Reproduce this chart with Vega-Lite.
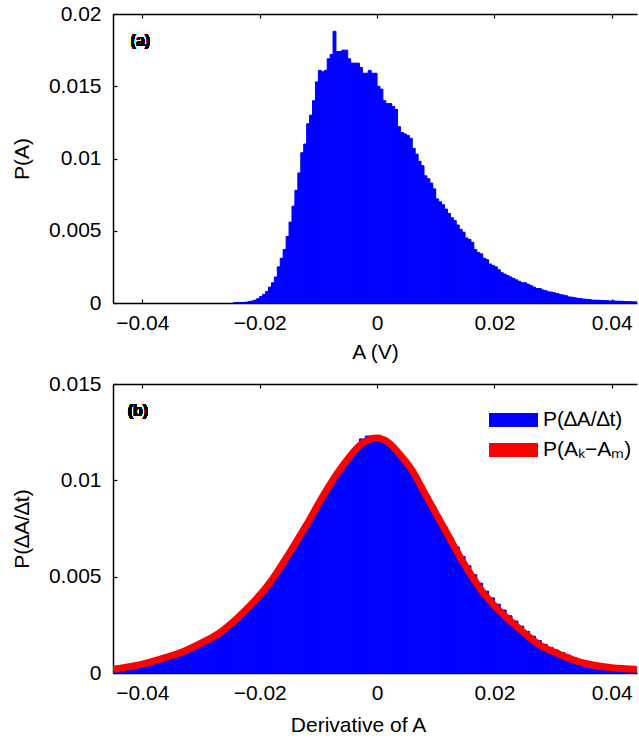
{
  "$schema": "https://vega.github.io/schema/vega-lite/v6.json",
  "padding": {"left": 11, "top": 3, "right": 0, "bottom": 0},
  "spacing": 11,
  "config": {
    "view": {"stroke": null},
    "font": "Liberation Sans",
    "axis": {
      "labelFont": "Liberation Sans", "titleFont": "Liberation Sans",
      "labelFontSize": 21, "titleFontSize": 21, "titleFontWeight": "normal",
      "labelColor": "black", "titleColor": "black",
      "domainColor": "black", "tickColor": "black",
      "domainWidth": 1.5, "tickWidth": 1.2, "tickSize": -4, "grid": false, "format": "~g"
    }
  },
  "vconcat": [
    {
      "width": 524, "height": 289,
      "data": {"values": [
        {"x0":-0.0245,"x1":-0.024,"p":0.00002},{"x0":-0.024,"x1":-0.0235,"p":0.00002},{"x0":-0.0235,"x1":-0.023,"p":0.00003},{"x0":-0.023,"x1":-0.0225,"p":0.00004},{"x0":-0.0225,"x1":-0.022,"p":0.00006},{"x0":-0.022,"x1":-0.0215,"p":0.0001},{"x0":-0.0215,"x1":-0.021,"p":0.00014},{"x0":-0.021,"x1":-0.0205,"p":0.0002},{"x0":-0.0205,"x1":-0.02,"p":0.0003},{"x0":-0.02,"x1":-0.0195,"p":0.00045},
        {"x0":-0.0195,"x1":-0.019,"p":0.0006},{"x0":-0.019,"x1":-0.0185,"p":0.0008},{"x0":-0.0185,"x1":-0.018,"p":0.0011},{"x0":-0.018,"x1":-0.0175,"p":0.0014},{"x0":-0.0175,"x1":-0.017,"p":0.0018},{"x0":-0.017,"x1":-0.0165,"p":0.0025},{"x0":-0.0165,"x1":-0.016,"p":0.0031},{"x0":-0.016,"x1":-0.0155,"p":0.0037},{"x0":-0.0155,"x1":-0.015,"p":0.0046},{"x0":-0.015,"x1":-0.0145,"p":0.0056},
        {"x0":-0.0145,"x1":-0.014,"p":0.0067},{"x0":-0.014,"x1":-0.0135,"p":0.0078},{"x0":-0.0135,"x1":-0.013,"p":0.009},{"x0":-0.013,"x1":-0.0125,"p":0.0104},{"x0":-0.0125,"x1":-0.012,"p":0.011},{"x0":-0.012,"x1":-0.0115,"p":0.0124},{"x0":-0.0115,"x1":-0.011,"p":0.013},{"x0":-0.011,"x1":-0.0105,"p":0.014},{"x0":-0.0105,"x1":-0.01,"p":0.0153},{"x0":-0.01,"x1":-0.0095,"p":0.0161},
        {"x0":-0.0095,"x1":-0.009,"p":0.016},{"x0":-0.009,"x1":-0.0085,"p":0.0161},{"x0":-0.0085,"x1":-0.008,"p":0.0169},{"x0":-0.008,"x1":-0.0075,"p":0.0172},{"x0":-0.0075,"x1":-0.007,"p":0.0188},{"x0":-0.007,"x1":-0.0065,"p":0.0174},{"x0":-0.0065,"x1":-0.006,"p":0.0174},{"x0":-0.006,"x1":-0.0055,"p":0.0175},{"x0":-0.0055,"x1":-0.005,"p":0.0175},{"x0":-0.005,"x1":-0.0045,"p":0.0169},
        {"x0":-0.0045,"x1":-0.004,"p":0.0166},{"x0":-0.004,"x1":-0.0035,"p":0.0166},{"x0":-0.0035,"x1":-0.003,"p":0.0166},{"x0":-0.003,"x1":-0.0025,"p":0.0163},{"x0":-0.0025,"x1":-0.002,"p":0.0159},{"x0":-0.002,"x1":-0.0015,"p":0.0159},{"x0":-0.0015,"x1":-0.001,"p":0.0161},{"x0":-0.001,"x1":-0.0005,"p":0.0159},{"x0":-0.0005,"x1":0,"p":0.0159},{"x0":0,"x1":0.0005,"p":0.015},
        {"x0":0.0005,"x1":0.001,"p":0.0148},{"x0":0.001,"x1":0.0015,"p":0.014},{"x0":0.0015,"x1":0.002,"p":0.0138},{"x0":0.002,"x1":0.0025,"p":0.0138},{"x0":0.0025,"x1":0.003,"p":0.0136},{"x0":0.003,"x1":0.0035,"p":0.0134},{"x0":0.0035,"x1":0.004,"p":0.0122},{"x0":0.004,"x1":0.0045,"p":0.0118},{"x0":0.0045,"x1":0.005,"p":0.0117},{"x0":0.005,"x1":0.0055,"p":0.0116},
        {"x0":0.0055,"x1":0.006,"p":0.0114},{"x0":0.006,"x1":0.0065,"p":0.0107},{"x0":0.0065,"x1":0.007,"p":0.0103},{"x0":0.007,"x1":0.0075,"p":0.0098},{"x0":0.0075,"x1":0.008,"p":0.0095},{"x0":0.008,"x1":0.0085,"p":0.0088},{"x0":0.0085,"x1":0.009,"p":0.0086},{"x0":0.009,"x1":0.0095,"p":0.0083},{"x0":0.0095,"x1":0.01,"p":0.0079},{"x0":0.01,"x1":0.0105,"p":0.0072},
        {"x0":0.0105,"x1":0.011,"p":0.007},{"x0":0.011,"x1":0.0115,"p":0.0068},{"x0":0.0115,"x1":0.012,"p":0.0065},{"x0":0.012,"x1":0.0125,"p":0.0062},{"x0":0.0125,"x1":0.013,"p":0.0059},{"x0":0.013,"x1":0.0135,"p":0.0057},{"x0":0.0135,"x1":0.014,"p":0.0054},{"x0":0.014,"x1":0.0145,"p":0.0051},{"x0":0.0145,"x1":0.015,"p":0.0049},{"x0":0.015,"x1":0.0155,"p":0.0045},
        {"x0":0.0155,"x1":0.016,"p":0.0044},{"x0":0.016,"x1":0.0165,"p":0.0042},{"x0":0.0165,"x1":0.017,"p":0.0037},{"x0":0.017,"x1":0.0175,"p":0.0035},{"x0":0.0175,"x1":0.018,"p":0.0034},{"x0":0.018,"x1":0.0185,"p":0.0031},{"x0":0.0185,"x1":0.019,"p":0.003},{"x0":0.019,"x1":0.0195,"p":0.0027},{"x0":0.0195,"x1":0.02,"p":0.0026},{"x0":0.02,"x1":0.0205,"p":0.0025},
        {"x0":0.0205,"x1":0.021,"p":0.0023},{"x0":0.021,"x1":0.0215,"p":0.0021},{"x0":0.0215,"x1":0.022,"p":0.002},{"x0":0.022,"x1":0.0225,"p":0.0019},{"x0":0.0225,"x1":0.023,"p":0.0018},{"x0":0.023,"x1":0.0235,"p":0.0017},{"x0":0.0235,"x1":0.024,"p":0.0016},{"x0":0.024,"x1":0.0245,"p":0.0015},{"x0":0.0245,"x1":0.025,"p":0.0014},{"x0":0.025,"x1":0.0255,"p":0.0014},
        {"x0":0.0255,"x1":0.026,"p":0.0013},{"x0":0.026,"x1":0.0265,"p":0.0012},{"x0":0.0265,"x1":0.027,"p":0.0011},{"x0":0.027,"x1":0.0275,"p":0.001},{"x0":0.0275,"x1":0.028,"p":0.001},{"x0":0.028,"x1":0.0285,"p":0.0009},{"x0":0.0285,"x1":0.029,"p":0.00085},{"x0":0.029,"x1":0.0295,"p":0.00077},{"x0":0.0295,"x1":0.03,"p":0.00075},{"x0":0.03,"x1":0.0305,"p":0.0007},
        {"x0":0.0305,"x1":0.031,"p":0.00065},{"x0":0.031,"x1":0.0315,"p":0.00058},{"x0":0.0315,"x1":0.032,"p":0.00055},{"x0":0.032,"x1":0.0325,"p":0.0005},{"x0":0.0325,"x1":0.033,"p":0.00042},{"x0":0.033,"x1":0.0335,"p":0.0004},{"x0":0.0335,"x1":0.034,"p":0.00036},{"x0":0.034,"x1":0.0345,"p":0.00032},{"x0":0.0345,"x1":0.035,"p":0.0003},{"x0":0.035,"x1":0.0355,"p":0.00027},
        {"x0":0.0355,"x1":0.036,"p":0.00025},{"x0":0.036,"x1":0.0365,"p":0.00024},{"x0":0.0365,"x1":0.037,"p":0.0002},{"x0":0.037,"x1":0.0375,"p":0.0002},{"x0":0.0375,"x1":0.038,"p":0.00019},{"x0":0.038,"x1":0.0385,"p":0.00018},{"x0":0.0385,"x1":0.039,"p":0.00017},{"x0":0.039,"x1":0.0395,"p":0.00016},{"x0":0.0395,"x1":0.04,"p":0.00014},{"x0":0.04,"x1":0.0405,"p":0.00015},
        {"x0":0.0405,"x1":0.041,"p":0.00013},{"x0":0.041,"x1":0.0415,"p":0.00012},{"x0":0.0415,"x1":0.042,"p":0.00012},{"x0":0.042,"x1":0.0425,"p":0.0001},{"x0":0.0425,"x1":0.043,"p":0.0001},{"x0":0.043,"x1":0.0435,"p":0.00009},{"x0":0.0435,"x1":0.044,"p":0.00008},{"x0":0.044,"x1":0.0445,"p":0.00008}
      ]},
      "resolve": {"axis": {"x": "independent"}},
      "layer": [
        {
          "mark": {"type": "rect", "color": "#0000FF", "stroke": "#0000FF", "strokeWidth": 1, "clip": true},
          "encoding": {
            "x": {"field": "x0", "type": "quantitative",
                  "scale": {"domain": [-0.045, 0.0443], "nice": false, "zero": false},
                  "axis": {"values": [-0.04, -0.02, 0, 0.02, 0.04], "title": "A (V)", "labelPadding": 13, "titlePadding": 8}},
            "x2": {"field": "x1"},
            "y": {"field": "p", "type": "quantitative",
                  "scale": {"domain": [0, 0.02], "nice": false},
                  "axis": {"values": [0, 0.005, 0.01, 0.015, 0.02], "title": "P(A)", "labelPadding": 16, "titlePadding": 16}},
            "y2": {"datum": 0}
          }
        },
        {
          "mark": {"type": "rect", "opacity": 0},
          "encoding": {
            "x": {"field": "x0", "type": "quantitative",
                  "axis": {"orient": "top", "values": [-0.04, -0.02, 0, 0.02, 0.04], "labels": false, "title": null}},
            "x2": {"field": "x1"}
          }
        },
        {
          "mark": {"type": "text", "text": "(a)", "fontWeight": "bold", "fontSize": 16, "align": "left", "baseline": "middle", "color": "black", "font": "Liberation Sans"},
          "encoding": {
            "x": {"datum": -0.042, "type": "quantitative", "axis": null},
            "y": {"datum": 0.0181, "type": "quantitative"}
          }
        }
      ]
    },
    {
      "width": 524, "height": 289,
      "data": {"values": [
        {"x0":-0.045,"x1":-0.044,"p":0.00018},{"x0":-0.044,"x1":-0.043,"p":0.00023},{"x0":-0.043,"x1":-0.042,"p":0.00028},{"x0":-0.042,"x1":-0.041,"p":0.00034},{"x0":-0.041,"x1":-0.04,"p":0.0004},{"x0":-0.04,"x1":-0.039,"p":0.00047},{"x0":-0.039,"x1":-0.038,"p":0.00055},{"x0":-0.038,"x1":-0.037,"p":0.00064},{"x0":-0.037,"x1":-0.036,"p":0.00073},{"x0":-0.036,"x1":-0.035,"p":0.00083},
        {"x0":-0.035,"x1":-0.034,"p":0.00093},{"x0":-0.034,"x1":-0.033,"p":0.00104},{"x0":-0.033,"x1":-0.032,"p":0.00116},{"x0":-0.032,"x1":-0.031,"p":0.0013},{"x0":-0.031,"x1":-0.03,"p":0.00145},{"x0":-0.03,"x1":-0.029,"p":0.0016},{"x0":-0.029,"x1":-0.028,"p":0.00177},{"x0":-0.028,"x1":-0.027,"p":0.00194},{"x0":-0.027,"x1":-0.026,"p":0.00214},{"x0":-0.026,"x1":-0.025,"p":0.00237},
        {"x0":-0.025,"x1":-0.024,"p":0.00264},{"x0":-0.024,"x1":-0.023,"p":0.00292},{"x0":-0.023,"x1":-0.022,"p":0.00322},{"x0":-0.022,"x1":-0.021,"p":0.00352},{"x0":-0.021,"x1":-0.02,"p":0.00385},{"x0":-0.02,"x1":-0.019,"p":0.0042},{"x0":-0.019,"x1":-0.018,"p":0.00457},{"x0":-0.018,"x1":-0.017,"p":0.00497},{"x0":-0.017,"x1":-0.016,"p":0.00542},{"x0":-0.016,"x1":-0.015,"p":0.00587},
        {"x0":-0.015,"x1":-0.014,"p":0.0064},{"x0":-0.014,"x1":-0.013,"p":0.00692},{"x0":-0.013,"x1":-0.012,"p":0.00742},{"x0":-0.012,"x1":-0.011,"p":0.00794},{"x0":-0.011,"x1":-0.01,"p":0.00847},{"x0":-0.01,"x1":-0.009,"p":0.009},{"x0":-0.009,"x1":-0.008,"p":0.0095},{"x0":-0.008,"x1":-0.007,"p":0.00998},{"x0":-0.007,"x1":-0.006,"p":0.01045},{"x0":-0.006,"x1":-0.005,"p":0.01087},
        {"x0":-0.005,"x1":-0.004,"p":0.01125},{"x0":-0.004,"x1":-0.003,"p":0.01162},{"x0":-0.003,"x1":-0.002,"p":0.01215},{"x0":-0.002,"x1":-0.001,"p":0.0123},{"x0":-0.001,"x1":0,"p":0.0123},{"x0":0,"x1":0.001,"p":0.01222},{"x0":0.001,"x1":0.002,"p":0.01205},{"x0":0.002,"x1":0.003,"p":0.01182},{"x0":0.003,"x1":0.004,"p":0.0115},{"x0":0.004,"x1":0.005,"p":0.01112},
        {"x0":0.005,"x1":0.006,"p":0.01072},{"x0":0.006,"x1":0.007,"p":0.01025},{"x0":0.007,"x1":0.008,"p":0.00975},{"x0":0.008,"x1":0.009,"p":0.0092},{"x0":0.009,"x1":0.01,"p":0.00866},{"x0":0.01,"x1":0.011,"p":0.0081},{"x0":0.011,"x1":0.012,"p":0.00756},{"x0":0.012,"x1":0.013,"p":0.00702},{"x0":0.013,"x1":0.014,"p":0.00655},{"x0":0.014,"x1":0.015,"p":0.00605},
        {"x0":0.015,"x1":0.016,"p":0.00557},{"x0":0.016,"x1":0.017,"p":0.0051},{"x0":0.017,"x1":0.018,"p":0.00466},{"x0":0.018,"x1":0.019,"p":0.00425},{"x0":0.019,"x1":0.02,"p":0.0039},{"x0":0.02,"x1":0.021,"p":0.00357},{"x0":0.021,"x1":0.022,"p":0.00327},{"x0":0.022,"x1":0.023,"p":0.00297},{"x0":0.023,"x1":0.024,"p":0.0027},{"x0":0.024,"x1":0.025,"p":0.00243},
        {"x0":0.025,"x1":0.026,"p":0.00216},{"x0":0.026,"x1":0.027,"p":0.00191},{"x0":0.027,"x1":0.028,"p":0.00168},{"x0":0.028,"x1":0.029,"p":0.00149},{"x0":0.029,"x1":0.03,"p":0.00133},{"x0":0.03,"x1":0.031,"p":0.00119},{"x0":0.031,"x1":0.032,"p":0.00106},{"x0":0.032,"x1":0.033,"p":0.00093},{"x0":0.033,"x1":0.034,"p":0.0008},{"x0":0.034,"x1":0.035,"p":0.00065},
        {"x0":0.035,"x1":0.036,"p":0.00056},{"x0":0.036,"x1":0.037,"p":0.00048},{"x0":0.037,"x1":0.038,"p":0.00041},{"x0":0.038,"x1":0.039,"p":0.00035},{"x0":0.039,"x1":0.04,"p":0.00031},{"x0":0.04,"x1":0.041,"p":0.00027},{"x0":0.041,"x1":0.042,"p":0.00024},{"x0":0.042,"x1":0.043,"p":0.00022},{"x0":0.043,"x1":0.044,"p":0.0002},{"x0":0.044,"x1":0.045,"p":0.00019}
      ]},
      "resolve": {"axis": {"x": "independent"}},
      "layer": [
        {
          "mark": {"type": "rect", "stroke": "#0000FF", "strokeWidth": 1, "clip": true},
          "encoding": {
            "x": {"field": "x0", "type": "quantitative",
                  "scale": {"domain": [-0.045, 0.0443], "nice": false, "zero": false},
                  "axis": {"values": [-0.04, -0.02, 0, 0.02, 0.04], "title": "Derivative of A", "labelPadding": 13, "titlePadding": 11, "titleX": 245}},
            "x2": {"field": "x1"},
            "y": {"field": "p", "type": "quantitative",
                  "scale": {"domain": [0, 0.015], "nice": false},
                  "axis": {"values": [0, 0.005, 0.01, 0.015], "title": "P(∆A/∆t)", "labelPadding": 16, "titlePadding": 16}},
            "y2": {"datum": 0},
            "color": {"datum": "P(∆A/∆t)", "type": "nominal",
                      "scale": {"domain": ["P(∆A/∆t)", "P(Aₖ−Aₘ)"], "range": ["#0000FF", "#FF0000"]},
                      "legend": {
                        "title": null, "orient": "none", "legendX": 390, "legendY": 395.5,
                        "symbolType": "M-3.5,-1H3.5V1H-3.5Z", "symbolSize": 196,
                        "symbolStrokeWidth": 0, "symbolOpacity": 1,
                        "labelFontSize": 21, "labelFont": "Liberation Sans", "labelColor": "black",
                        "labelOffset": 19, "rowPadding": 8,
                        "encode": {"symbols": {"update": {
                          "shape": {"signal": "datum.index === 0 ? 'M-3.5,-1H3.5V1H-3.5Z' : 'M-3.5,-0.43H3.5V0.43H-3.5Z'"},
                          "fill": {"signal": "datum.index === 0 ? '#0000FF' : '#FF0000'"},
                          "strokeWidth": {"value": 0},
                          "opacity": {"value": 1}
                        }}}
                      }}
          }
        },
        {
          "data": {"values": [
            {"x":-0.045,"p":0.00019},{"x":-0.042,"p":0.00034},{"x":-0.039,"p":0.00054},{"x":-0.036,"p":0.00081},{"x":-0.033,"p":0.00112},{"x":-0.03,"p":0.00155},{"x":-0.027,"p":0.00205},{"x":-0.024,"p":0.0028},{"x":-0.021,"p":0.0037},{"x":-0.018,"p":0.0048},
            {"x":-0.015,"p":0.0062},{"x":-0.012,"p":0.0077},{"x":-0.009,"p":0.0093},{"x":-0.006,"p":0.0107},{"x":-0.003,"p":0.0118},{"x":-0.001,"p":0.01215},{"x":0,"p":0.0122},{"x":0.002,"p":0.01195},{"x":0.004,"p":0.0113},{"x":0.006,"p":0.0105},
            {"x":0.008,"p":0.0094},{"x":0.01,"p":0.0083},{"x":0.012,"p":0.0072},{"x":0.014,"p":0.0061},{"x":0.016,"p":0.0051},{"x":0.018,"p":0.0042},{"x":0.02,"p":0.0035},{"x":0.022,"p":0.0029},{"x":0.025,"p":0.0021},{"x":0.028,"p":0.0014},
            {"x":0.031,"p":0.00098},{"x":0.034,"p":0.00062},{"x":0.037,"p":0.0004},{"x":0.04,"p":0.00027},{"x":0.0443,"p":0.00019}
          ]},
          "mark": {"type": "line", "strokeWidth": 7, "interpolate": "monotone", "clip": true, "strokeCap": "butt"},
          "encoding": {
            "x": {"field": "x", "type": "quantitative", "axis": null},
            "y": {"field": "p", "type": "quantitative"},
            "color": {"datum": "P(Aₖ−Aₘ)", "type": "nominal"}
          }
        },
        {
          "mark": {"type": "rect", "opacity": 0},
          "encoding": {
            "x": {"field": "x0", "type": "quantitative",
                  "axis": {"orient": "top", "values": [-0.04, -0.02, 0, 0.02, 0.04], "labels": false, "title": null}},
            "x2": {"field": "x1"}
          }
        },
        {
          "mark": {"type": "text", "text": "(b)", "fontWeight": "bold", "fontSize": 16, "align": "left", "baseline": "middle", "color": "black", "font": "Liberation Sans"},
          "encoding": {
            "x": {"datum": -0.0425, "type": "quantitative", "axis": null},
            "y": {"datum": 0.0136, "type": "quantitative"}
          }
        }
      ]
    }
  ]
}
